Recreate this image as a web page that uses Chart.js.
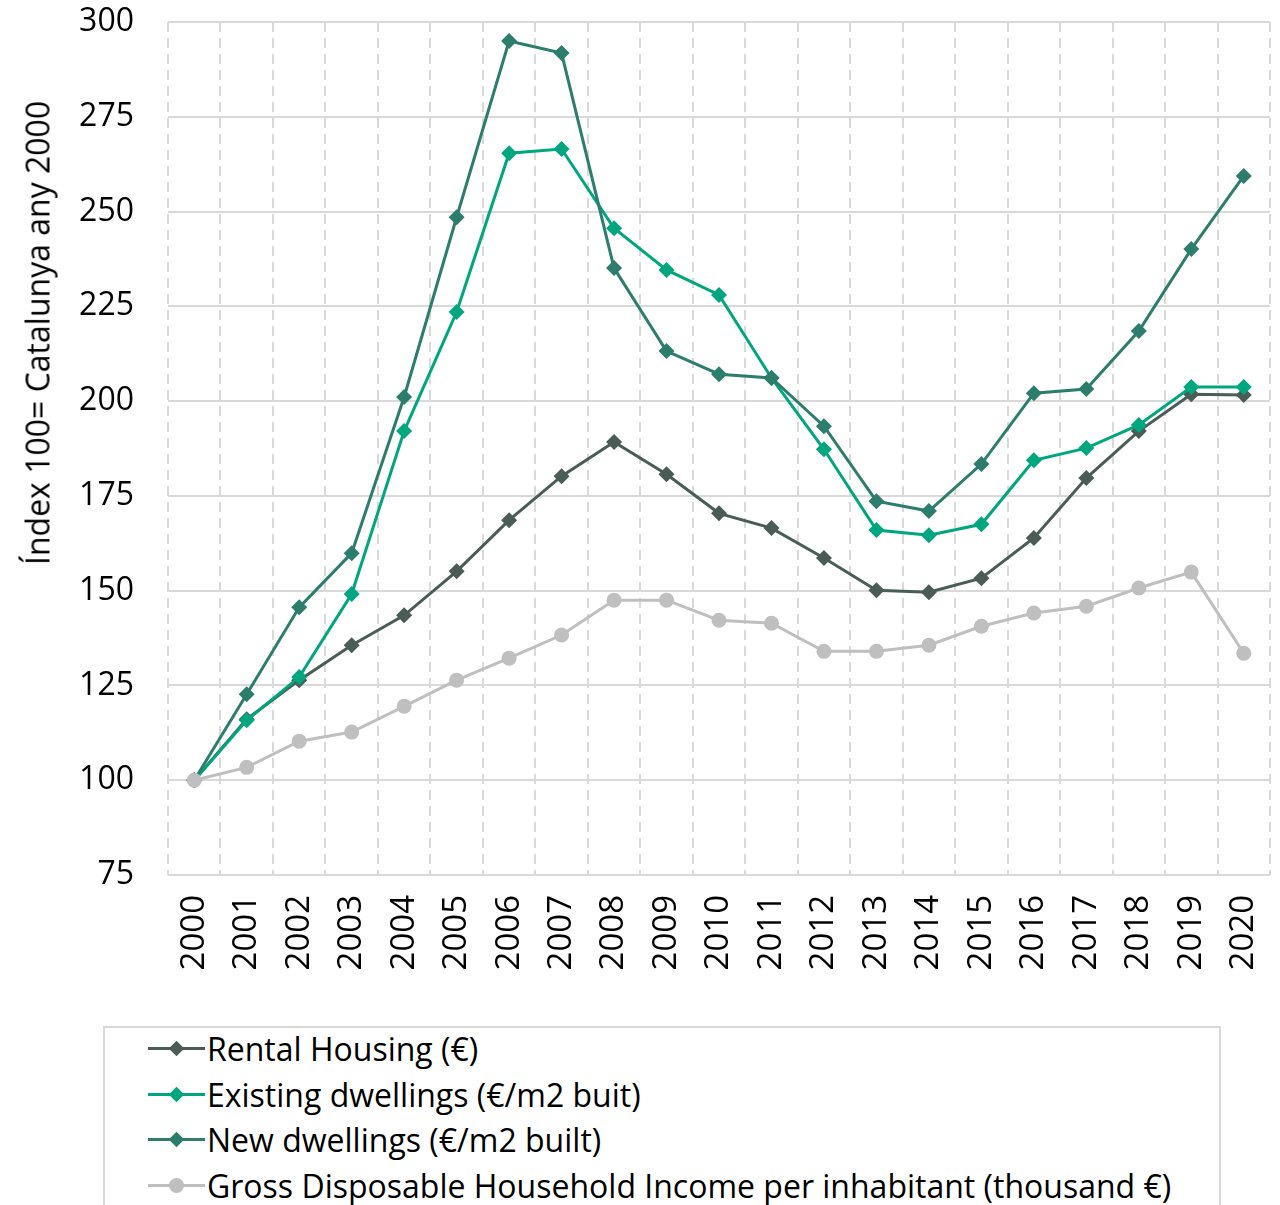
<!DOCTYPE html>
<html>
<head>
<meta charset="utf-8">
<script src="https://cdn.jsdelivr.net/npm/chart.js@4.4.1/dist/chart.umd.min.js"></script>
<style>
  body { margin: 0; background: #fff; font-family: "Open Sans", sans-serif; }
  #wrap { position: relative; width: 1280px; height: 1205px; overflow: hidden; }
  #yTitle {
    position: absolute; left: 37px; top: 333px;
    transform: translate(-50%, -50%) rotate(-90deg);
    white-space: nowrap; font-size: 32px; color: #000;
  }
  #legend {
    position: absolute; left: 103px; top: 1026px; width: 1114px; height: 220px;
    border: 2px solid #d9d9d9; box-sizing: content-box;
  }
  .item { position: relative; height: 45.5px; display: flex; align-items: center; font-size: 32px; color: #000; white-space: nowrap; }
  .item:first-child { margin-top: -2px; }
  .icon { position: relative; width: 57px; height: 3px; margin-left: 43px; margin-right: 2px; }
  .mark { position: absolute; left: 50%; top: 50%; }
</style>
</head>
<body>
<div id="wrap">
  <canvas id="lineChart" width="1280" height="1010"></canvas>
  <div id="yTitle">Índex 100= Catalunya any 2000</div>
  <div id="legend"></div>
</div>
<script>
var years = ['2000','2001','2002','2003','2004','2005','2006','2007','2008','2009','2010',
  '2011','2012','2013','2014','2015','2016','2017','2018','2019','2020'];

var rentalHousing = [100, 116.1, 126.4, 135.6, 143.5, 155.1, 168.6, 180.2, 189.2, 180.7, 170.4,
  166.5, 158.6, 150.1, 149.6, 153.3, 163.9, 179.7, 192.1, 201.8, 201.6];
var existingDwellings = [100, 115.8, 127.2, 149.1, 192.1, 223.5, 265.4, 266.5, 245.6, 234.6, 228,
  206.1, 187.3, 166, 164.6, 167.5, 184.4, 187.6, 193.7, 203.7, 203.7];
var newDwellings = [100, 122.7, 145.6, 159.9, 201.1, 248.5, 295, 291.8, 235.1, 213.2, 207.1,
  206.1, 193.4, 173.6, 171, 183.4, 202.1, 203.2, 218.5, 240.1, 259.4];
var householdIncome = [100, 103.4, 110.3, 112.7, 119.5, 126.4, 132.2, 138.3, 147.5, 147.5, 142.2,
  141.4, 134, 134, 135.6, 140.6, 144.1, 145.9, 150.7, 154.9, 133.5];

var seriesNames = ['Rental Housing (€)', 'Existing dwellings (€/m2 buit)', 'New dwellings (€/m2 built)',
  'Gross Disposable Household Income per inhabitant (thousand €)'];
var seriesColors = ['#495c56', '#00a67e', '#2c7d6b', '#bfbfbf'];
var seriesMarkers = ['rectRot', 'rectRot', 'rectRot', 'circle'];

var yMin = 75, yMax = 300, yStep = 25;

Chart.defaults.font.family = '"Open Sans", sans-serif';
Chart.defaults.color = '#000';

function makeSet(i, values) {
  return {
    label: seriesNames[i],
    data: values,
    borderColor: seriesColors[i],
    backgroundColor: seriesColors[i],
    borderWidth: 3,
    pointStyle: seriesMarkers[i],
    pointRadius: seriesMarkers[i] == 'circle' ? 7.5 : 8,
    pointBorderWidth: 0,
    tension: 0,
    order: 4 - i
  };
}

var ctx = document.getElementById('lineChart').getContext('2d');
var lineChart = new Chart(ctx, {
  type: 'line',
  data: {
    labels: years,
    datasets: [
      makeSet(0, rentalHousing),
      makeSet(1, existingDwellings),
      makeSet(2, newDwellings),
      makeSet(3, householdIncome)
    ]
  },
  options: {
    responsive: false,
    animation: false,
    devicePixelRatio: 1,
    layout: { padding: { top: 22, right: 10, left: 0, bottom: 0 } },
    plugins: { legend: { display: false }, tooltip: { enabled: false } },
    scales: {
      x: {
        offset: true,
        grid: { offset: true, color: '#d9d9d9', lineWidth: 2, drawTicks: false },
        border: { display: false, dash: [10, 6] },
        ticks: { font: { size: 33 }, minRotation: 90, maxRotation: 90, padding: 20, autoSkip: false },
        afterFit: function (scale) {
          scale.height = 135;
          scale.paddingLeft = 0;
          scale.paddingRight = 0;
        }
      },
      y: {
        min: yMin,
        max: yMax,
        grid: { color: '#d9d9d9', lineWidth: 2, drawTicks: false },
        border: { display: false },
        ticks: { stepSize: yStep, font: { size: 32 }, padding: 34 },
        afterFit: function (scale) {
          scale.width = 168;
          scale.paddingTop = 0;
          scale.paddingBottom = 0;
        }
      }
    }
  }
});

// legend drawn as html, one row per series
var legend = document.getElementById('legend');
seriesNames.forEach(function (name, i) {
  var item = document.createElement('div');
  item.className = 'item';
  var icon = document.createElement('span');
  icon.className = 'icon';
  icon.style.background = seriesColors[i];
  var mark = document.createElement('span');
  mark.className = 'mark';
  if (seriesMarkers[i] == 'circle') {
    mark.style.cssText = 'width:15px;height:15px;border-radius:50%;margin:-7.5px 0 0 -7.5px;background:' + seriesColors[i];
  } else {
    mark.style.cssText = 'width:11px;height:11px;margin:-5.5px 0 0 -5.5px;transform:rotate(45deg);background:' + seriesColors[i];
  }
  icon.appendChild(mark);
  var text = document.createElement('span');
  text.textContent = name;
  item.appendChild(icon);
  item.appendChild(text);
  legend.appendChild(item);
});
</script>
</body>
</html>
